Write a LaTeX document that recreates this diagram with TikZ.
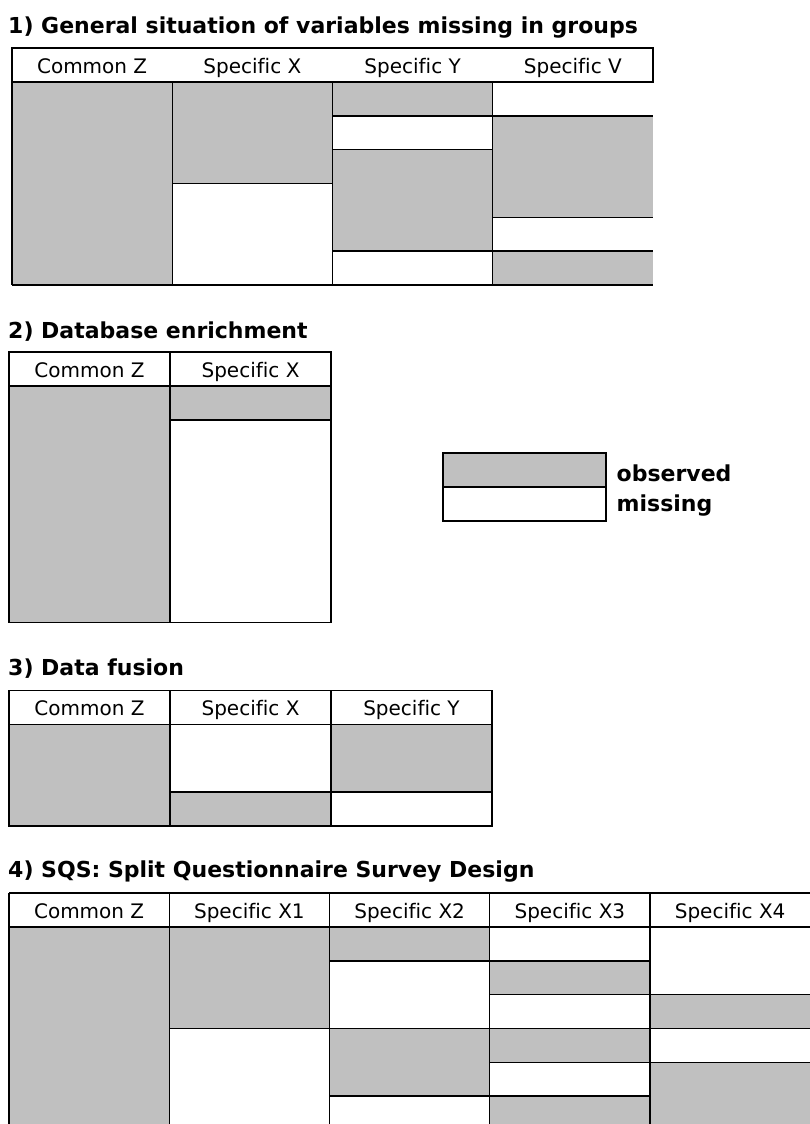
\documentclass[tikz,border=0pt]{standalone}
\usepackage{fontspec}
\setmainfont[Ligatures=NoCommon]{DejaVu Sans}
\definecolor{obsgray}{RGB}{192,192,192}

\begin{document}
\begin{tikzpicture} [x=1bp, y=-1bp, line width=1.4bp,
 obs/.style={fill=obsgray}, miss/.style={fill=white},
 title/.style={anchor=base west, inner sep=0pt, font=\fontsize{22bp}{26bp}\selectfont\bfseries},
 head/.style={anchor=base, inner sep=0pt, font=\fontsize{20bp}{24bp}\selectfont}]

\useasboundingbox (0,0) rectangle (810,1124);

\node[title] (title1) at (7.5,33) {1) General situation of variables missing in groups};
\begin{scope}[shift={(12,48)}]
\foreach \c/\segs in {0/{0/6/obs}, 1/{0/3/obs,3/6/miss}, 2/{0/1/obs,1/2/miss,2/5/obs,5/6/miss}, 3/{0/1/miss,1/4/obs,4/5/miss,5/6/obs}} {
 \foreach \a/\b/\s in \segs {
  \fill[\s] (\c*160.25, 34+\a*33.8) rectangle (\c*160.25+160.25, 34+\b*33.8);
  \draw (\c*160.25, 34+\a*33.8) --+(160.25,0);
 };
};
\draw (0,0) rectangle (641,34);
\foreach \c in {0,1,2,3} {
 \draw (\c*160.25,34)--+(0,202.8);
};
\draw (0,236.8)--(641,236.8);
\foreach \c/\lab in {0/Common Z, 1/Specific X, 2/Specific Y, 3/Specific V} {
 \node[head] (head1\c) at (\c*160.25+80.125,25) {\lab};
};
\end{scope}

\node[title] (title2) at (7.5,338) {2) Database enrichment};
\begin{scope}[shift={(9,352)}]
\foreach \c/\segs in {0/{0/7/obs}, 1/{0/1/obs,1/7/miss}} {
 \foreach \a/\b/\s in \segs {
  \fill[\s] (\c*161, 34+\a*33.8) rectangle (\c*161+161, 34+\b*33.8);
  \draw (\c*161, 34+\a*33.8) --+(161,0);
 };
};
\draw (0,0) rectangle (322,270.6);
\draw (161,0)--(161,270.6);
\foreach \c/\lab in {0/Common Z, 1/Specific X} {
 \node[head] (head2\c) at (\c*161+80.5,25) {\lab};
};
\end{scope}

\fill[obs] (443,453) rectangle (606,487);
\draw (443,453) rectangle (606,521);
\draw (443,487)--(606,487);
\node[title] (obsText) at (616,481.5) {observed};
\node[title] (missText) at (616,511.5) {missing};

\node[title] (title3) at (7.5,675) {3) Data fusion};
\begin{scope}[shift={(9,690.5)}]
\foreach \c/\segs in {0/{0/3/obs}, 1/{0/2/miss,2/3/obs}, 2/{0/2/obs,2/3/miss}} {
 \foreach \a/\b/\s in \segs {
  \fill[\s] (\c*161, 34+\a*33.8) rectangle (\c*161+161, 34+\b*33.8);
  \draw (\c*161, 34+\a*33.8) --+(161,0);
 };
};
\draw (0,0) rectangle (483,135.4);
\foreach \c in {1,2} {
 \draw (\c*161,0)--+(0,135.4);
};
\foreach \c/\lab in {0/Common Z, 1/Specific X, 2/Specific Y} {
 \node[head] (head3\c) at (\c*161+80.5,25) {\lab};
};
\end{scope}

\node[title] (title4) at (7.5,877) {4) SQS: Split Questionnaire Survey Design};
\begin{scope}[shift={(9,893)}]
\foreach \c/\segs in {0/{0/6/obs}, 1/{0/3/obs,3/6/miss}, 2/{0/1/obs,1/3/miss,3/5/obs,5/6/miss}, 3/{0/1/miss,1/2/obs,2/3/miss,3/4/obs,4/5/miss,5/6/obs}, 4/{0/2/miss,2/3/obs,3/4/miss,4/6/obs}} {
 \foreach \a/\b/\s in \segs {
  \fill[\s] (\c*160.25, 34+\a*33.8) rectangle (\c*160.25+160.25, 34+\b*33.8);
  \draw (\c*160.25, 34+\a*33.8) --+(160.25,0);
 };
};
\draw (0,0)--(801.25,0);
\foreach \c in {0,1,2,3,4} {
 \draw (\c*160.25,0)--+(0,236.8);
};
\foreach \c/\lab in {0/Common Z, 1/Specific X1, 2/Specific X2, 3/Specific X3, 4/Specific X4} {
 \node[head] (head4\c) at (\c*160.25+80.125,25) {\lab};
};
\end{scope}

\end{tikzpicture}
\end{document}
